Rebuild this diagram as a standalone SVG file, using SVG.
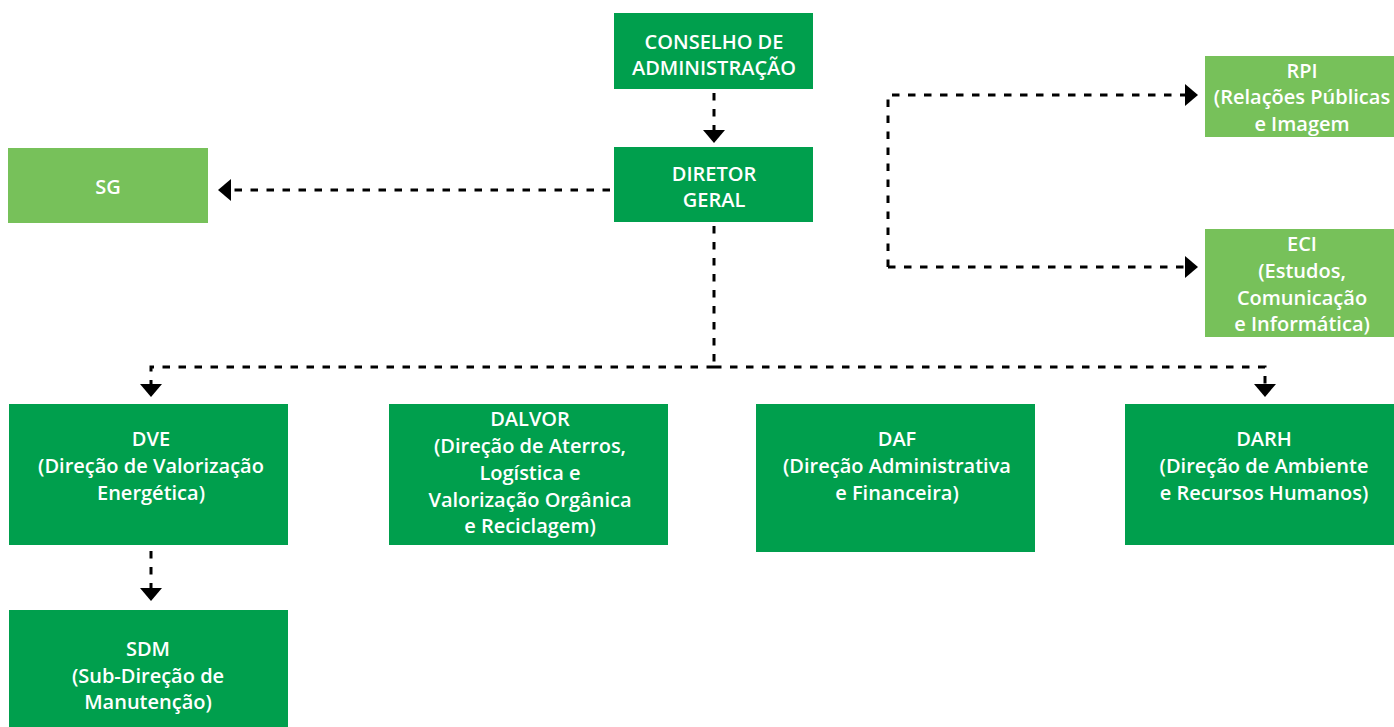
<svg xmlns="http://www.w3.org/2000/svg" width="1394" height="727" viewBox="0 0 1394 727">
  <style>
    .dark { fill: #009f4d; }
    .light { fill: #77c15a; }
    .t { font-family: "Open Sans", "Liberation Sans", sans-serif; font-weight: 600; font-size: 20px; fill: #ffffff; text-anchor: middle; }
    .c { fill: none; stroke: #000000; stroke-width: 3; stroke-dasharray: 7.5 8.5; }
  </style>
  <defs>
    <marker id="ah" viewBox="0 0 13 22" refX="0" refY="11" markerWidth="13" markerHeight="22" markerUnits="userSpaceOnUse" orient="auto">
      <path d="M0,0 L13,11 L0,22 Z" fill="#000000"/>
    </marker>
  </defs>
  <rect width="1394" height="727" fill="#ffffff"/>

  <g id="connectors">
    <path class="c" d="M714,93 V130" marker-end="url(#ah)"/>
    <path class="c" d="M610,190 H231" marker-end="url(#ah)"/>
    <path class="c" d="M888,267 V95 H1185" marker-end="url(#ah)"/>
    <path class="c" d="M888,267 H1185" marker-end="url(#ah)"/>
    <path class="c" d="M714,226 V367"/>
    <path class="c" d="M714,367 H151 V384" marker-end="url(#ah)"/>
    <path class="c" d="M714,367 H1265 V384" marker-end="url(#ah)"/>
    <path class="c" d="M151,551 V588" marker-end="url(#ah)"/>
  </g>

  <g id="conselho">
    <rect class="dark" x="614" y="13" width="199" height="76"/>
    <text class="t" x="714" y="49">CONSELHO DE</text>
    <text class="t" x="714" y="75">ADMINISTRAÇÃO</text>
  </g>
  <g id="diretor">
    <rect class="dark" x="614" y="147" width="199" height="75"/>
    <text class="t" x="714" y="181">DIRETOR</text>
    <text class="t" x="714" y="207">GERAL</text>
  </g>
  <g id="sg">
    <rect class="light" x="8" y="148" width="200" height="75"/>
    <text class="t" x="108" y="194">SG</text>
  </g>
  <g id="rpi">
    <rect class="light" x="1205" y="56" width="189" height="81"/>
    <text class="t" x="1302" y="78">RPI</text>
    <text class="t" x="1302" y="104">(Relações Públicas</text>
    <text class="t" x="1302" y="131">e Imagem</text>
  </g>
  <g id="eci">
    <rect class="light" x="1205" y="229" width="189" height="108"/>
    <text class="t" x="1302" y="251">ECI</text>
    <text class="t" x="1302" y="278">(Estudos,</text>
    <text class="t" x="1302" y="305">Comunicação</text>
    <text class="t" x="1302" y="331">e Informática)</text>
  </g>
  <g id="dve">
    <rect class="dark" x="9" y="404" width="279" height="141"/>
    <text class="t" x="151" y="446">DVE</text>
    <text class="t" x="151" y="473">(Direção de Valorização</text>
    <text class="t" x="151" y="500">Energética)</text>
  </g>
  <g id="sdm">
    <rect class="dark" x="9" y="610" width="279" height="117"/>
    <text class="t" x="148" y="656">SDM</text>
    <text class="t" x="148" y="683">(Sub-Direção de</text>
    <text class="t" x="148" y="709">Manutenção)</text>
  </g>
  <g id="dalvor">
    <rect class="dark" x="389" y="404" width="279" height="141"/>
    <text class="t" x="530" y="426">DALVOR</text>
    <text class="t" x="530" y="453">(Direção de Aterros,</text>
    <text class="t" x="530" y="480">Logística e</text>
    <text class="t" x="530" y="507">Valorização Orgânica</text>
    <text class="t" x="530" y="533">e Reciclagem)</text>
  </g>
  <g id="daf">
    <rect class="dark" x="756" y="404" width="279" height="148"/>
    <text class="t" x="897" y="446">DAF</text>
    <text class="t" x="897" y="473">(Direção Administrativa</text>
    <text class="t" x="897" y="500">e Financeira)</text>
  </g>
  <g id="darh">
    <rect class="dark" x="1125" y="404" width="269" height="141"/>
    <text class="t" x="1264" y="446">DARH</text>
    <text class="t" x="1264" y="473">(Direção de Ambiente</text>
    <text class="t" x="1264" y="500">e Recursos Humanos)</text>
  </g>
</svg>
